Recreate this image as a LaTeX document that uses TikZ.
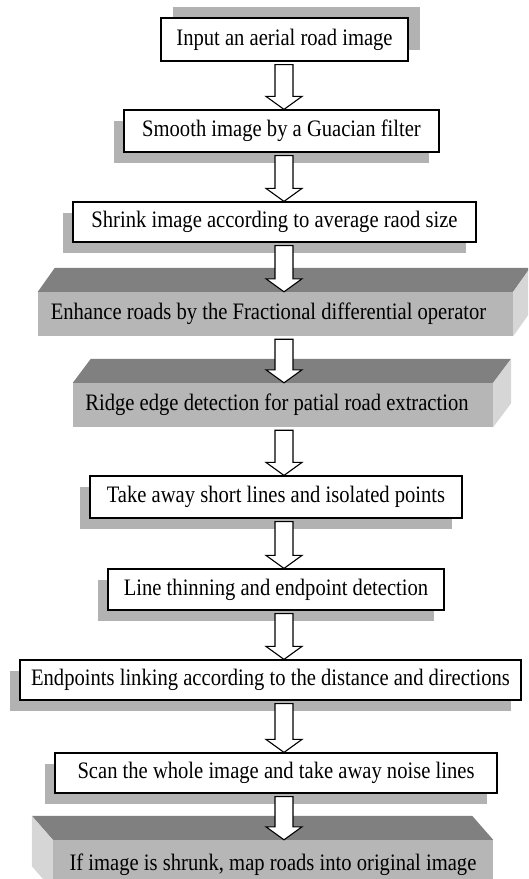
\documentclass[tikz,border=0pt]{standalone}
\usepackage{fontspec}
\setmainfont{Liberation Serif}
\usetikzlibrary{shadows,calc}
\definecolor{shadowgray}{RGB}{178,178,178}
\definecolor{topgray}{RGB}{128,128,128}
\definecolor{frontgray}{RGB}{182,182,182}
\definecolor{sidegray}{RGB}{214,214,214}
\newcommand{\tx}[1]{\scalebox{1.03}[1.18]{#1}}
\newcommand{\flowarrow}[2]{%
  \path[blockarrow] let \p1=(#1.south), \p2=(#2.north) in
    (275pt,{\y1-3pt}) -- (293pt,{\y1-3pt}) -- (293pt,{\y2+13pt}) -- (302pt,{\y2+13pt})
    -- (284pt,\y2) -- (266pt,{\y2+13pt}) -- (275pt,{\y2+13pt}) -- cycle;}
\begin{document}
\begin{tikzpicture}[x=1pt,y=-1pt,
  every node/.style={font=\fontsize{20}{24}\selectfont, inner sep=0pt},
  flatbox/.style={draw=black, line width=1.2pt, fill=white},
  shadowL/.style={drop shadow={shadow xshift=-10pt, shadow yshift=-11pt, fill=shadowgray, opacity=1}},
  shadowR/.style={drop shadow={shadow xshift=12pt, shadow yshift=11pt, fill=shadowgray, opacity=1}},
  frontbox/.style={fill=frontgray},
  topface/.style={fill=topgray},
  sideface/.style={fill=sidegray},
  blockarrow/.style={draw=black, fill=white, line width=1.1pt, line join=miter}
]
\useasboundingbox (0,0) rectangle (528,879);
\clip (0,0) rectangle (528,879);

% flat boxes
\node[flatbox, shadowR, minimum width=247, minimum height=43] (b1) at (284.5,39.5) {\tx{Input an aerial road image}};
\node[flatbox, shadowL, minimum width=315, minimum height=42] (b2) at (281.5,131) {\tx{Smooth image by a Guacian filter}};
\node[flatbox, shadowL, minimum width=403, minimum height=40] (b3) at (274.5,222) {\tx{Shrink image according to average raod size}};
\node[flatbox, shadowL, minimum width=372, minimum height=42] (b6) at (276,497) {\tx{Take away short lines and isolated points}};
\node[flatbox, shadowL, minimum width=336, minimum height=41] (b7) at (276,589.5) {\tx{Line thinning and endpoint detection}};
\node[flatbox, shadowL, minimum width=501, minimum height=40] (b8) at (270.5,680) {\tx{Endpoints linking according to the distance and directions}};
\node[flatbox, shadowL, minimum width=442, minimum height=40] (b9) at (276,773) {\tx{Scan the whole image and take away noise lines}};

% 3D boxes
\node[frontbox, minimum width=475, minimum height=44] (b4) at (275.5,314) {\raisebox{-3pt}{\tx{Enhance roads by the Fractional differential operator}}\hspace*{14pt}};
\fill[topface] (b4.north west) -- ++(17,-24) -- ([shift={(17,-24)}]b4.north east) -- (b4.north east) -- cycle;
\fill[sideface] (b4.north east) -- ++(17,-24) -- ([shift={(17,-24)}]b4.south east) -- (b4.south east) -- cycle;

\node[frontbox, minimum width=420, minimum height=44] (b5) at (283,405) {\raisebox{-2pt}{\tx{Ridge edge detection for patial road extraction}}\hspace*{12pt}};
\fill[topface] (b5.north west) -- ++(18,-24) -- ([shift={(18,-24)}]b5.north east) -- (b5.north east) -- cycle;
\fill[sideface] (b5.north east) -- ++(18,-24) -- ([shift={(18,-24)}]b5.south east) -- (b5.south east) -- cycle;

\node[frontbox, minimum width=440, minimum height=50] (b10) at (273,865) {\tx{If image is shrunk, map roads into original image}};
\fill[topface] (b10.north west) -- ++(-21,-24) -- ([shift={(-21,-24)}]b10.north east) -- (b10.north east) -- cycle;
\fill[sideface] (b10.north west) -- ++(-21,-24) -- ([shift={(-21,-24)}]b10.south west) -- (b10.south west) -- cycle;

% arrows
\flowarrow{b1}{b2}
\flowarrow{b2}{b3}
\flowarrow{b3}{b4}
\flowarrow{b4}{b5}
\flowarrow{b5}{b6}
\flowarrow{b6}{b7}
\flowarrow{b7}{b8}
\flowarrow{b8}{b9}
\flowarrow{b9}{b10}
\end{tikzpicture}
\end{document}
